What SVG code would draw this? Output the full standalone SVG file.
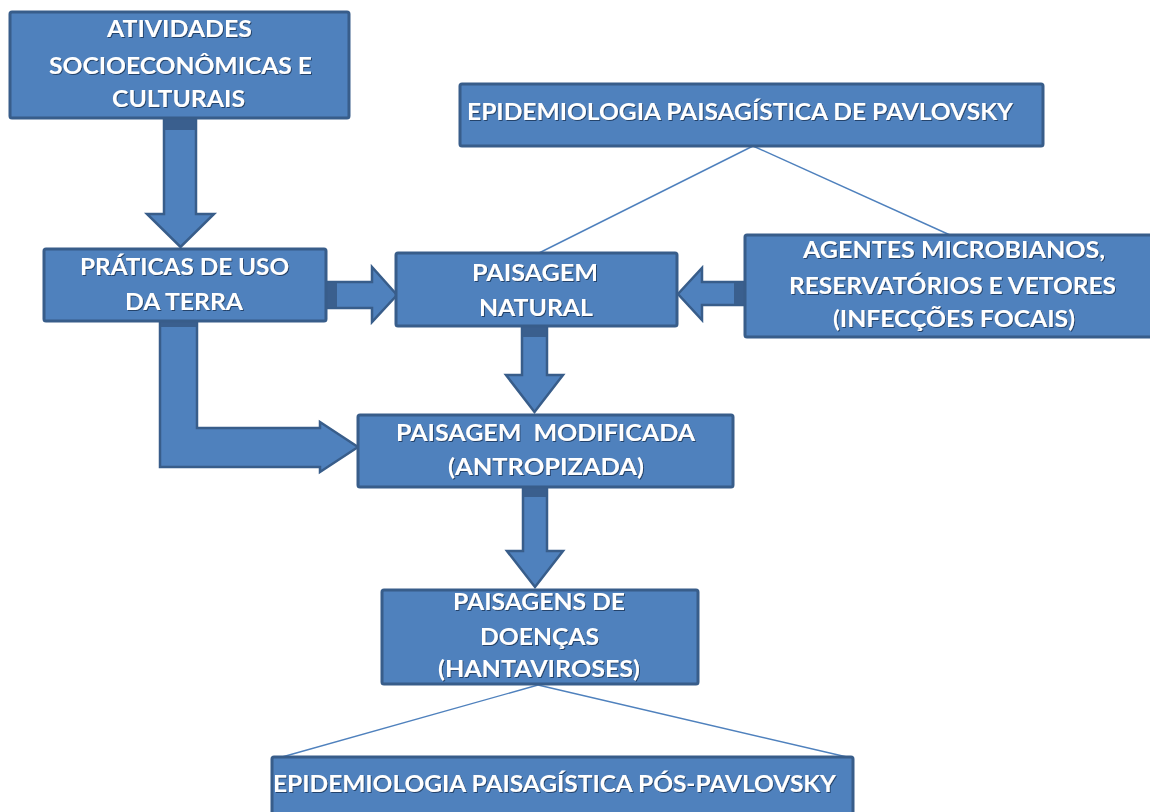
<svg xmlns="http://www.w3.org/2000/svg" width="1150" height="812" viewBox="0 0 1150 812">
<defs>
<filter id="ts" x="-5%" y="-30%" width="110%" height="160%">
<feDropShadow dx="1" dy="1" stdDeviation="0.6" flood-color="#1c3557" flood-opacity="0.8"/>
</filter>
</defs>
<style>
.box{fill:#4F81BD;stroke:#385D8A;stroke-width:3}
.arr{fill:#4F81BD;stroke:#385D8A;stroke-width:2.5;stroke-linejoin:miter}
.dk{fill:#3A5F8E}
.ln{stroke:#4F81BD;stroke-width:1.4;fill:none}
text{font-family:Lato,"Liberation Sans",sans-serif;font-weight:bold;font-size:22.5px;fill:#ffffff;filter:url(#ts)}
</style>
<rect width="1150" height="812" fill="#ffffff"/>
<g id="connectors">
<path class="arr" d="M164,118 V214 H147 L180.5,247 L214,214 H196 V118 Z"/>
<rect class="dk" x="165" y="118" width="30" height="12"/>
<path class="arr" d="M326,282 H372 V267 L397,295 L372,322 V308 H326 Z"/>
<rect class="dk" x="326" y="283" width="11" height="24"/>
<path class="arr" d="M160,321 V467 H320 V472 L358,447 L320,422 V428 H197 V321 Z"/>
<rect class="dk" x="161" y="321" width="35" height="6"/>
<path class="arr" d="M522,326 V375 H506 L534.5,412 L563,375 H547 V326 Z"/>
<rect class="dk" x="523" y="326" width="23" height="11"/>
<path class="arr" d="M523,487 V551 H507 L535,587 L563,551 H547 V487 Z"/>
<rect class="dk" x="524" y="487" width="22" height="10"/>
<path class="arr" d="M745,282 H702 V268 L678,294 L702,320 V305 H745 Z"/>
<rect class="dk" x="734" y="283" width="11" height="21"/>
<line class="ln" x1="753" y1="146" x2="539" y2="253"/>
<line class="ln" x1="753" y1="146" x2="950" y2="235"/>
<line class="ln" x1="538" y1="685" x2="282" y2="757"/>
<line class="ln" x1="538" y1="685" x2="847" y2="757"/>
</g>
<g id="atividades">
<rect class="box" x="10" y="12" width="339" height="106" rx="2"/>
<text x="107" y="37" textLength="145" lengthAdjust="spacingAndGlyphs">ATIVIDADES</text>
<text x="49" y="74" textLength="263" lengthAdjust="spacingAndGlyphs">SOCIOECONÔMICAS E</text>
<text x="112" y="107" textLength="133" lengthAdjust="spacingAndGlyphs">CULTURAIS</text>
</g>
<g id="praticas">
<rect class="box" x="44" y="249" width="282" height="72" rx="2"/>
<text x="80" y="275" textLength="209" lengthAdjust="spacingAndGlyphs">PRÁTICAS DE USO</text>
<text x="125" y="310" textLength="118" lengthAdjust="spacingAndGlyphs">DA TERRA</text>
</g>
<g id="pavlovsky">
<rect class="box" x="460" y="84" width="583" height="62" rx="2"/>
<text x="467" y="120" textLength="546" lengthAdjust="spacingAndGlyphs">EPIDEMIOLOGIA PAISAGÍSTICA DE PAVLOVSKY</text>
</g>
<g id="natural">
<rect class="box" x="396" y="253" width="281" height="73" rx="2"/>
<text x="472" y="281" textLength="126" lengthAdjust="spacingAndGlyphs">PAISAGEM</text>
<text x="479" y="316" textLength="114" lengthAdjust="spacingAndGlyphs">NATURAL</text>
</g>
<g id="agentes">
<rect class="box" x="745" y="235" width="420" height="102" rx="2"/>
<text x="803" y="258" textLength="302" lengthAdjust="spacingAndGlyphs">AGENTES MICROBIANOS,</text>
<text x="789" y="294" textLength="327" lengthAdjust="spacingAndGlyphs">RESERVATÓRIOS E VETORES</text>
<text x="833" y="327" textLength="242" lengthAdjust="spacingAndGlyphs">(INFECÇÕES FOCAIS)</text>
</g>
<g id="modificada">
<rect class="box" x="358" y="415" width="375" height="72" rx="2"/>
<text x="396" y="441" textLength="299" lengthAdjust="spacingAndGlyphs" xml:space="preserve">PAISAGEM  MODIFICADA</text>
<text x="448" y="475" textLength="196" lengthAdjust="spacingAndGlyphs">(ANTROPIZADA)</text>
</g>
<g id="doencas">
<rect class="box" x="382" y="590" width="316" height="94" rx="2"/>
<text x="453" y="610" textLength="172" lengthAdjust="spacingAndGlyphs">PAISAGENS DE</text>
<text x="480" y="645" textLength="119" lengthAdjust="spacingAndGlyphs">DOENÇAS</text>
<text x="438" y="677" textLength="202" lengthAdjust="spacingAndGlyphs">(HANTAVIROSES)</text>
</g>
<g id="pos-pavlovsky">
<rect class="box" x="272" y="757" width="581" height="70" rx="2"/>
<text x="273" y="792" textLength="563" lengthAdjust="spacingAndGlyphs">EPIDEMIOLOGIA PAISAGÍSTICA PÓS-PAVLOVSKY</text>
</g>
</svg>
